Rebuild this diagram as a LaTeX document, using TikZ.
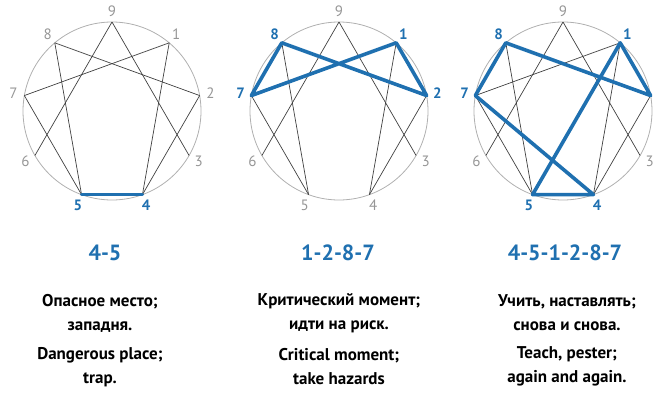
\documentclass[tikz,border=0pt]{standalone}
\usepackage{fontspec}
\setmainfont{PT Sans}
\usetikzlibrary{positioning,calc}

\definecolor{ennblue}{RGB}{31,112,176}
\definecolor{enngray}{RGB}{150,150,150}

% circle with the nine points and the thin lines
\newcommand{\ennbase}[2]{%
  \node[ennring] (#1) at (#2,-111) {};
  \foreach \k in {1,...,9} {
    \pgfmathsetmacro\ang{90-40*\k}
    \coordinate (#1\k) at (#1.\ang);
  }
  \foreach \u/\v in {9/6,9/3,8/2,8/5,7/1,7/5,1/4,2/4}
    \draw[ennline] (#1\u) -- (#1\v);
}
% number labels round the circle
\newcommand{\ennnums}[3]{%
  \foreach \k in {#2} {
    \pgfmathsetmacro\ang{90-40*\k}
    \node[ennnum] (#1n\k) at ($(#1.center)+(\ang:100)$) {\k};
  }
  \foreach \k in {#3} {
    \pgfmathsetmacro\ang{90-40*\k}
    \node[ennhot] (#1n\k) at ($(#1.center)+(\ang:100)$) {\k};
  }
}

\begin{document}
\begin{tikzpicture}[x=1pt, y=1pt,
    ennring/.style = {draw=enngray!75, line width=0.8pt, circle, minimum size=178pt, inner sep=0pt, outer sep=0pt},
    ennline/.style = {draw=black!75, line width=0.7pt},
    ennpath/.style = {draw=ennblue, line width=3.6pt, line join=round, line cap=round},
    ennnum/.style = {text=enngray, inner sep=0pt, font=\fontsize{15}{15}\selectfont},
    ennhot/.style = {text=ennblue, inner sep=0pt, font=\bfseries\fontsize{15}{15}\selectfont},
    enntitle/.style = {text=ennblue, inner sep=0pt, font=\bfseries\fontsize{22}{22}\selectfont},
    enntext/.style = {align=center, inner sep=0pt, font=\bfseries\fontsize{17}{24}\selectfont}]
  \useasboundingbox (0,-405) rectangle (657,0);

  % Circles
  \ennbase{A}{112}
  \ennbase{B}{339}
  \ennbase{C}{563}

  % Blue paths
  \draw[ennpath] (A4) -- (A5);
  \draw[ennpath] (B1) -- (B2) -- (B8) -- (B7) -- cycle;
  \draw[ennpath] (C4) -- (C5) -- (C1) -- (C2) -- (C8) -- (C7) -- cycle;

  % Numbers
  \ennnums{A}{1,2,3,6,7,8,9}{4,5}
  \ennnums{B}{3,4,5,6,9}{1,2,7,8}
  \ennnums{C}{3,6,9}{1,4,5,7,8}

  % Titles
  \node[enntitle] (tA) at (105,-253) {4-5};
  \node[enntitle] (tB) at (338,-253) {1-2-8-7};
  \node[enntitle] (tC) at (565,-253) {4-5-1-2-8-7};

  % Texts
  \node[enntext] (ruA) at (100,-313) {Опасное место;\\ западня.};
  \node[enntext] (enA) [below=15pt of ruA] {Dangerous place;\\ trap.};
  \node[enntext] (ruB) at (339,-313) {Критический момент;\\ идти на риск.};
  \node[enntext] (enB) [below=15pt of ruB] {Critical moment;\\ take hazards};
  \node[enntext] (ruC) at (567,-313) {Учить, наставлять;\\ снова и снова.};
  \node[enntext] (enC) [below=15pt of ruC] {Teach, pester;\\ again and again.};
\end{tikzpicture}
\end{document}
